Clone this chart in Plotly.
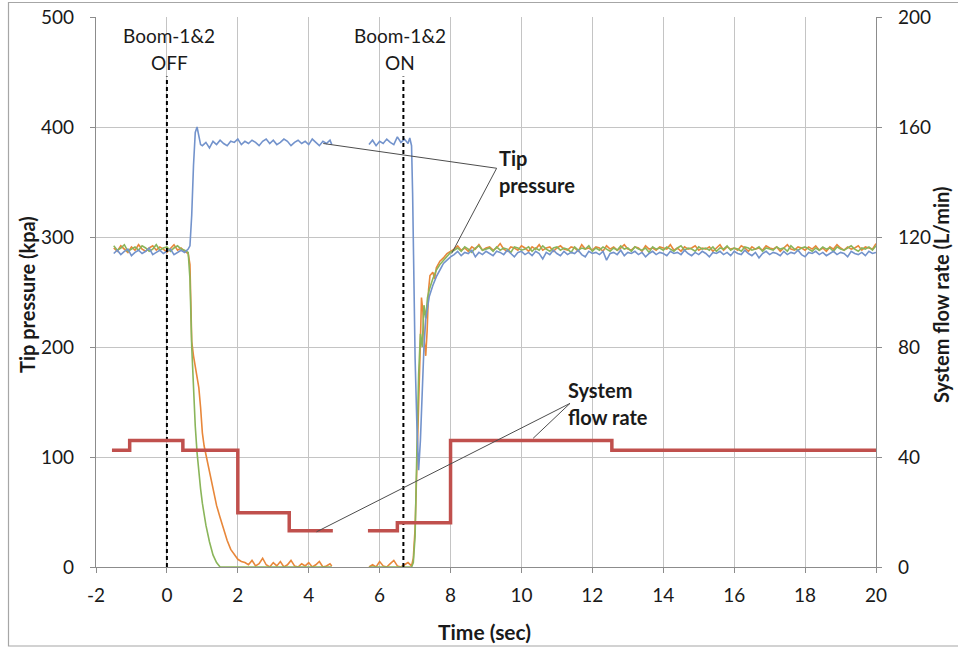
import numpy as np
import plotly.graph_objects as go

# ---------------- data ----------------
# common time grids (sec)
t_pre = np.round(np.linspace(-1.5, 0.6, 22), 2)
t_tail = np.round(np.linspace(8.1, 20.0, 120), 2)

# x tick labels
x_tickvals = [-2, 0, 2, 4, 6, 8, 10, 12, 14, 16, 18, 20]
x_ticktext = ["-2", "0", "2", "4", "6", "8", "10", "12", "14", "16", "18", "20"]

# --- Blue tip pressure (kpa)
blue_pre = [285, 288, 284, 287, 289, 283, 286, 288, 285, 287, 290, 284, 286, 288, 285, 287, 289, 284, 286, 288, 286, 289]
blue_rise_t = [0.65, 0.7, 0.75, 0.8, 0.85, 0.9, 0.95]
blue_rise = [292, 320, 365, 395, 400, 390, 384]
blue_plat_t = list(np.round(np.linspace(1.0, 4.6, 37), 2)) + [4.65]
blue_plat = [383, 386, 381, 387, 384, 388, 385, 383, 387, 386, 389, 384, 387, 385, 388, 386, 383, 387, 389, 385,
             388, 384, 386, 389, 387, 383, 386, 388, 385, 387, 384, 389, 386, 383, 387, 385, 388, 384]
blue_seg2_t = list(np.round(np.linspace(5.7, 6.8, 12), 2)) + [6.85, 6.9, 6.93, 6.97, 7.0, 7.05, 7.1, 7.15, 7.2, 7.25,
                                                            7.3, 7.35, 7.4, 7.5, 7.6, 7.7, 7.8, 7.9, 8.0]
blue_seg2 = [384, 388, 383, 387, 385, 389, 386, 384, 391, 386, 389, 385, 390, 383, 340, 250, 190, 130, 88, 115, 160, 200,
             225, 238, 246, 256, 264, 270, 276, 279, 282]
blue_tail = [284, 287, 283, 286, 285, 288, 282, 286, 284, 287,
             285, 283, 287, 286, 284, 288, 285, 282, 286, 287,
             284, 286, 283, 287, 285, 280, 286, 284, 288, 285,
             283, 287, 284, 286, 285, 288, 284, 282, 287, 285,
             286, 284, 287, 279, 285, 286, 284, 288, 283, 286,
             285, 287, 284, 286, 282, 285, 287, 284, 286, 285,
             283, 287, 285, 286, 284, 288, 285, 283, 286, 284,
             287, 285, 282, 286, 285, 287, 284, 286, 283, 287,
             285, 284, 288, 285, 283, 286, 281, 285, 287, 284,
             286, 285, 283, 287, 284, 286, 285, 288, 284, 282,
             286, 285, 287, 284, 286, 283, 285, 287, 284, 286,
             285, 282, 287, 285, 284, 286, 283, 287, 285, 286]

# --- Orange tip pressure (kpa)
orange_pre = [290, 287, 292, 289, 286, 291, 288, 293, 289, 287, 290, 292, 288, 291, 289, 286, 290, 293, 288, 290, 287, 285]
orange_fall_t = [0.65, 0.7, 0.75, 0.8, 0.85, 0.9, 0.95, 1.0, 1.05, 1.1, 1.2, 1.3, 1.4, 1.5, 1.6, 1.7, 1.8, 1.9, 2.0, 2.1, 2.2]
orange_fall = [275, 205, 192, 183, 175, 163, 145, 122, 110, 102, 86, 70, 56, 45, 34, 24, 16, 11, 7, 5, 4]
orange_low_t = list(np.round(np.linspace(2.3, 4.6, 24), 2)) + [4.65]
orange_low = [2, 6, 1, 3, 8, 2, 0, 4, 1, 5, 0, 2, 6, 1, 0, 3, 1, 4, 0, 2, 5, 0, 1, 3, 1]
orange_seg2_t = list(np.round(np.linspace(5.7, 6.9, 13), 2)) + [6.95, 7.0, 7.05, 7.1, 7.15, 7.18, 7.22, 7.26, 7.3, 7.34,
                                                             7.38, 7.42, 7.5, 7.55, 7.6, 7.7, 7.8, 7.9, 8.0]
orange_seg2 = [0, 2, 0, 5, 1, 0, 3, 6, 1, 0, 2, 4, 1, 8, 35, 85, 150, 205, 245, 232, 205, 192, 215,
               252, 265, 268, 262, 272, 278, 281, 285, 287]
orange_tail = [289, 292, 288, 290, 287, 291, 289, 293, 288, 290,
               291, 288, 290, 294, 289, 287, 291, 290, 288, 292,
               290, 287, 291, 289, 293, 288, 290, 291, 287, 290,
               292, 289, 288, 291, 290, 287, 293, 289, 290, 288,
               291, 290, 287, 292, 289, 291, 288, 290, 293, 289,
               288, 291, 290, 287, 292, 289, 290, 288, 291, 290,
               289, 293, 288, 290, 287, 291, 289, 290, 292, 288,
               290, 289, 291, 287, 290, 293, 288, 291, 289, 290,
               288, 292, 290, 287, 291, 289, 290, 288, 292, 290,
               289, 291, 287, 290, 293, 289, 288, 291, 290, 288,
               291, 289, 292, 288, 290, 287, 291, 289, 293, 290,
               288, 291, 289, 290, 292, 288, 291, 290, 289, 294]

# --- Green tip pressure (kpa)
green_pre = [292, 288, 290, 293, 287, 289, 291, 288, 292, 290, 287, 289, 293, 288, 290, 291, 287, 290, 292, 289, 288, 286]
green_fall_t = [0.65, 0.7, 0.75, 0.8, 0.85, 0.9, 0.95, 1.0, 1.1, 1.2, 1.3, 1.4, 1.5, 4.65]
green_fall = [262, 200, 160, 128, 104, 86, 71, 58, 38, 23, 11, 4, 0, 0]
green_seg2_t = [5.7, 6.9, 6.95, 7.0, 7.05, 7.1, 7.15, 7.2, 7.25, 7.3, 7.35, 7.4, 7.5, 7.6, 7.7, 7.8, 7.9, 8.0]
green_seg2 = [0, 0, 4, 28, 105, 175, 212, 200, 238, 226, 245, 252, 262, 270, 275, 279, 283, 286]
green_tail = [288, 290, 287, 291, 289, 286, 290, 292, 288, 289,
              290, 287, 291, 288, 290, 289, 286, 291, 290, 288,
              289, 291, 287, 290, 288, 292, 289, 287, 290, 291,
              288, 290, 289, 286, 291, 288, 290, 289, 292, 287,
              290, 288, 291, 289, 287, 290, 288, 292, 289, 290,
              287, 291, 289, 288, 290, 286, 291, 289, 290, 288,
              291, 289, 287, 290, 292, 288, 290, 289, 287, 291,
              289, 290, 288, 291, 287, 290, 289, 292, 288, 290,
              289, 287, 291, 290, 288, 289, 291, 287, 290, 289,
              288, 291, 289, 290, 287, 292, 289, 288, 290, 291,
              289, 287, 290, 288, 291, 289, 290, 287, 291, 289,
              288, 290, 292, 289, 287, 290, 289, 291, 288, 292]

# --- System flow rate (L/min), step changes (value holds until next time)
flow_t1 = [-1.55, -1.05, 0.45, 2.0, 3.45, 4.68]
flow_v1 = [42.5, 46.0, 42.5, 19.7, 13.2, 13.2]
flow_t2 = [5.67, 6.5, 8.0, 12.55, 20.0]
flow_v2 = [13.2, 16.1, 46.0, 42.5, 42.5]

# --- Boom events
event_t = [0.0, 6.67]
event_top = 446
event_line1 = ["Boom-1&2", "Boom-1&2"]
event_line2 = ["OFF", "ON"]
event_label_x = [0.06, 6.57]

# --- callouts (label anchor and leader-line targets)
tip_apex = (9.30, 362.5)
tip_targets = [(4.41, 385.0), (8.03, 285.0)]
flow_apex = (11.37, 59.5)
flow_targets = [(4.22, 12.8), (10.33, 46.8)]

# ---------------- build ----------------
def with_gap(a_x, a_y, b_x, b_y):
    return list(a_x) + [None] + list(b_x), list(a_y) + [None] + list(b_y)

bx1 = list(t_pre) + blue_rise_t + blue_plat_t
by1 = blue_pre + blue_rise + blue_plat
bx2 = blue_seg2_t + list(t_tail)
by2 = blue_seg2 + blue_tail
blue_x, blue_y = with_gap(bx1, by1, bx2, by2)

ox1 = list(t_pre) + orange_fall_t + orange_low_t
oy1 = orange_pre + orange_fall + orange_low
ox2 = orange_seg2_t + list(t_tail)
oy2 = orange_seg2 + orange_tail
orange_x, orange_y = with_gap(ox1, oy1, ox2, oy2)

gx1 = list(t_pre) + green_fall_t
gy1 = green_pre + green_fall
gx2 = green_seg2_t + list(t_tail)
gy2 = green_seg2 + green_tail
green_x, green_y = with_gap(gx1, gy1, gx2, gy2)

flow_x, flow_y = with_gap(flow_t1, flow_v1, flow_t2, flow_v2)

BLUE = "#7393CC"
ORANGE = "#E8873A"
GREEN = "#8AB55A"
RED = "#C0504D"
FONT = "Lato"
GRID = "#C4C4C4"
AXIS = "#8C8C8C"
TXT = "#1a1a1a"

# figure placed at the page origin (body margin removed in post_script)
OFF = 0
# target plot area in page pixels
PL, PR, PT, PB = 96, 876, 17, 567
PW, PH = PR - PL, PB - PT


def px(p):
    return (p - PL) / PW


def py(p):
    return (PB - p) / PH


fig = go.Figure()

fig.add_trace(go.Scatter(x=orange_x, y=orange_y, mode="lines", line=dict(color=ORANGE, width=1.6),
                         connectgaps=False, showlegend=False, hoverinfo="skip"))
fig.add_trace(go.Scatter(x=green_x, y=green_y, mode="lines", line=dict(color=GREEN, width=1.6),
                         connectgaps=False, showlegend=False, hoverinfo="skip"))
fig.add_trace(go.Scatter(x=blue_x, y=blue_y, mode="lines", line=dict(color=BLUE, width=1.6),
                         connectgaps=False, showlegend=False, hoverinfo="skip"))

# event dashed lines
for t in event_t:
    fig.add_trace(go.Scatter(x=[t, t], y=[0, event_top], mode="lines",
                             line=dict(color="black", width=2, dash="4px,3px"),
                             showlegend=False, hoverinfo="skip"))

# leader lines for tip pressure
for tx, ty in tip_targets:
    fig.add_trace(go.Scatter(x=[tip_apex[0], tx], y=[tip_apex[1], ty], mode="lines",
                             line=dict(color="#4D4D4D", width=1), showlegend=False, hoverinfo="skip"))

# flow rate (secondary axis)
fig.add_trace(go.Scatter(x=flow_x, y=flow_y, mode="lines", yaxis="y2", line=dict(color=RED, width=3.5, shape="hv"),
                         connectgaps=False, showlegend=False, hoverinfo="skip"))

for tx, ty in flow_targets:
    fig.add_trace(go.Scatter(x=[flow_apex[0], tx], y=[flow_apex[1], ty], mode="lines", yaxis="y2",
                             line=dict(color="#4D4D4D", width=1), showlegend=False, hoverinfo="skip"))

annotations = []
for lx, l1, l2 in zip(event_label_x, event_line1, event_line2):
    annotations.append(dict(x=lx, y=483, xref="x", yref="y", text=l1, showarrow=False,
                            font=dict(family=FONT, size=19, color=TXT), xanchor="center", yanchor="middle"))
    annotations.append(dict(x=lx, y=458.5, xref="x", yref="y", text=l2, showarrow=False,
                            font=dict(family=FONT, size=19, color=TXT), xanchor="center", yanchor="middle"))

annotations += [
    dict(x=tip_apex[0], y=371.5, xref="x", yref="y", text="<b>Tip</b>", showarrow=False,
         font=dict(family=FONT, size=20, color=TXT), xanchor="left", yanchor="middle"),
    dict(x=tip_apex[0], y=347.3, xref="x", yref="y", text="<b>pressure</b>", showarrow=False,
         font=dict(family=FONT, size=20, color=TXT), xanchor="left", yanchor="middle"),
    dict(x=11.26, y=160.9, xref="x", yref="y", text="<b>System</b>", showarrow=False,
         font=dict(family=FONT, size=20, color=TXT), xanchor="left", yanchor="middle"),
    dict(x=11.26, y=136.6, xref="x", yref="y", text="<b>flow rate</b>", showarrow=False,
         font=dict(family=FONT, size=20, color=TXT), xanchor="left", yanchor="middle"),
    # axis titles
    dict(x=px(27), y=py(295), xref="paper", yref="paper", text="<b>Tip pressure (kpa)</b>", showarrow=False,
         textangle=-90, font=dict(family=FONT, size=20, color=TXT), xanchor="center", yanchor="middle"),
    dict(x=px(941), y=py(295), xref="paper", yref="paper", text="<b>System flow rate (L/min)</b>", showarrow=False,
         textangle=-90, font=dict(family=FONT, size=20, color=TXT), xanchor="center", yanchor="middle"),
    dict(x=px(484), y=py(631), xref="paper", yref="paper", text="<b>Time (sec)</b>",
         showarrow=False, font=dict(family=FONT, size=21, color=TXT), xanchor="center", yanchor="middle"),
]

tickfont = dict(family=FONT, size=19, color=TXT)

fig.update_layout(
    width=958, height=648,
    margin=dict(l=PL - OFF, r=958 - (PR - OFF), t=PT - OFF, b=648 - (PB - OFF), autoexpand=False),
    paper_bgcolor="white", plot_bgcolor="white",
    showlegend=False,
    annotations=annotations,
    xaxis=dict(range=[-2, 20], tickvals=x_tickvals, ticktext=x_ticktext, showgrid=True, gridcolor=GRID, gridwidth=1,
               zeroline=False, showline=True, linecolor=AXIS, linewidth=1.3,
               ticks="outside", ticklen=5, tickcolor=AXIS, tickfont=tickfont, ticklabelstandoff=6),
    yaxis=dict(range=[0, 500], dtick=100, showgrid=True, gridcolor=GRID, gridwidth=1,
               zeroline=False, showline=True, linecolor=AXIS, linewidth=1.3, ticklabeloverflow="allow",
               ticks="outside", ticklen=5, tickcolor=AXIS, tickfont=tickfont, ticklabelstandoff=12),
    yaxis2=dict(range=[0, 200], dtick=40, overlaying="y", side="right", showgrid=False,
                zeroline=False, showline=True, linecolor=AXIS, linewidth=1.3, ticklabeloverflow="allow",
                ticks="outside", ticklen=5, tickcolor=AXIS, tickfont=tickfont, ticklabelstandoff=12),
    shapes=[dict(type="rect", xref="paper", yref="paper",
                 x0=px(8.5), x1=px(975), y0=py(646), y1=py(2.5),
                 line=dict(color="#A6A6A6", width=1.2), fillcolor="rgba(0,0,0,0)", layer="below")],
)

fig.write_html("out.html", config={"displayModeBar": False},
               post_script="document.body.style.margin='0';")
